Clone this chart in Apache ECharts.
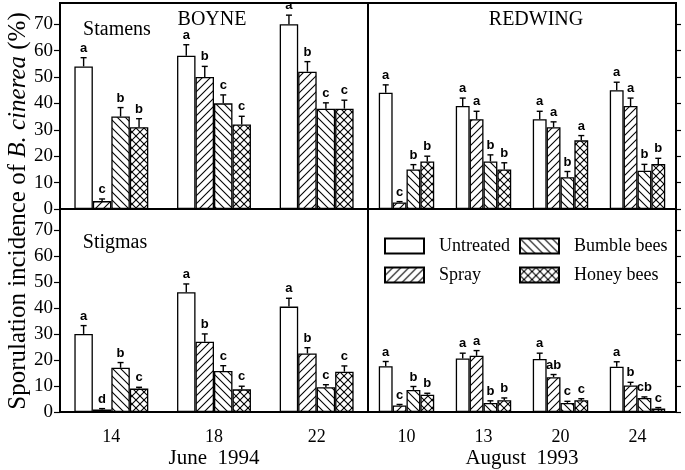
<!DOCTYPE html>
<html>
<head>
<meta charset="utf-8">
<script src="https://cdn.jsdelivr.net/npm/echarts@6/dist/echarts.min.js"></script>
<style>html,body{margin:0;padding:0;background:#fff}#c{width:685px;height:470px}</style>
</head>
<body>
<div id="c"></div>
<script>
// ---------- DATA ----------
const treatments = ['Untreated', 'Spray', 'Bumble bees', 'Honey bees'];
const boyneDates = ['14', '18', '22'];
const redwingDates = ['10', '13', '20', '24'];
const yTicks = [0, 10, 20, 30, 40, 50, 60, 70];

// rows = treatments (Untreated, Spray, Bumble bees, Honey bees), columns = dates
const boyneStamens = [[54, 58, 70], [3, 50, 52], [35, 40, 38], [31, 32, 38]];
const boyneStamensSE = [[3.3, 4.2, 3.4], [0.8, 4, 3.8], [3.4, 3.2, 2.2], [3.2, 3.1, 3.2]];
const boyneStamensLetters = [['a', 'a', 'a'], ['c', 'b', 'b'], ['b', 'c', 'c'], ['b', 'c', 'c']];

const redwingStamens = [[44, 39, 34, 45], [2.5, 34, 31, 39], [15, 18, 12, 14.5], [18, 15, 26, 17]];
const redwingStamensSE = [[3, 3, 3, 3], [0.3, 3, 2, 3], [1.8, 2.5, 2.2, 2.4], [2, 2.5, 1.8, 2.2]];
const redwingStamensLetters = [['a', 'a', 'a', 'a'], ['c', 'a', 'a', 'a'], ['b', 'b', 'b', 'b'], ['b', 'b', 'a', 'b']];

const boyneStigmas = [[30, 46, 40.5], [1, 27, 22.5], [17, 15.8, 9.5], [9, 8.7, 15.5]];
const boyneStigmasSE = [[3.2, 3.2, 3.2], [0.3, 3, 2.2], [2, 2, 1], [0.5, 1.2, 2.2]];
const boyneStigmasLetters = [['a', 'a', 'a'], ['d', 'b', 'b'], ['b', 'c', 'c'], ['c', 'c', 'c']];

const redwingStigmas = [[17.6, 20.6, 20.4, 17.4], [2.5, 21.6, 13.4, 10.2], [8.5, 3.5, 3.5, 5.4], [6.6, 4.5, 4.5, 1.3]];
const redwingStigmasSE = [[1.8, 2, 2.2, 1.9], [0.4, 2, 1, 1.2], [1.3, 0.8, 0.6, 0.4], [0.6, 0.9, 0.6, 0.4]];
const redwingStigmasLetters = [['a', 'a', 'a', 'a'], ['c', 'a', 'ab', 'b'], ['b', 'b', 'c', 'cb'], ['b', 'b', 'c', 'c']];

// ---------- STYLE ----------
const SERIF = 'Liberation Serif';
const SANS = 'Liberation Sans';
const GAP = 0.28;

function makePattern(kind, s) {
  const c = document.createElement('canvas');
  c.width = s; c.height = s;
  const g = c.getContext('2d');
  g.fillStyle = '#fff'; g.fillRect(0, 0, s, s);
  g.strokeStyle = '#000'; g.lineWidth = 1.1;
  const ks = [-s, 0, s, 2 * s];
  if (kind === 'fwd' || kind === 'cross') {
    ks.forEach(k => { g.beginPath(); g.moveTo(k + 1, -1); g.lineTo(k - s - 1, s + 1); g.stroke(); });
  }
  if (kind === 'back' || kind === 'cross') {
    ks.forEach(k => { g.beginPath(); g.moveTo(k - 1, -1); g.lineTo(k + s + 1, s + 1); g.stroke(); });
  }
  return { image: c, repeat: 'repeat' };
}
const fills = ['#fff', makePattern('fwd', 8), makePattern('back', 8), makePattern('cross', 8)];

const panels = [
  { cats: boyneDates, vals: boyneStamens, se: boyneStamensSE, letters: boyneStamensLetters, grid: { left: 60, top: 3, width: 308, height: 206 }, bottom: false, right: false },
  { cats: redwingDates, vals: redwingStamens, se: redwingStamensSE, letters: redwingStamensLetters, grid: { left: 368, top: 3, width: 308, height: 206 }, bottom: false, right: true },
  { cats: boyneDates, vals: boyneStigmas, se: boyneStigmasSE, letters: boyneStigmasLetters, grid: { left: 60, top: 209, width: 308, height: 203 }, bottom: true, right: false, name: 'June  1994' },
  { cats: redwingDates, vals: redwingStigmas, se: redwingStigmasSE, letters: redwingStigmasLetters, grid: { left: 368, top: 209, width: 308, height: 203 }, bottom: true, right: true, name: 'August  1993' }
];

const grid = [], xAxis = [], yAxis = [], series = [];
panels.forEach((p, pi) => {
  grid.push(Object.assign({ show: true, borderColor: '#000', borderWidth: 2, backgroundColor: 'transparent' }, p.grid));
  xAxis.push({
    type: 'category', gridIndex: pi, data: p.cats,
    axisLine: { show: true, lineStyle: { color: '#000', width: 2 } },
    axisTick: { show: false },
    axisLabel: { show: p.bottom, color: '#000', fontFamily: SERIF, fontSize: 18, margin: 16 },
    name: p.name || '', nameLocation: 'middle', nameGap: 36,
    nameTextStyle: { color: '#000', fontFamily: SERIF, fontSize: 21 }
  });
  yAxis.push({
    type: 'value', gridIndex: pi, min: 0, max: 78, interval: 10,
    position: p.right ? 'right' : 'left',
    splitLine: { show: false },
    axisLine: { show: true, lineStyle: { color: '#000', width: 2 } },
    axisTick: { show: true, inside: false, length: p.right ? 5 : 6, lineStyle: { color: '#000', width: 1.2 }, customValues: yTicks },
    axisLabel: { show: !p.right, color: '#000', fontFamily: SERIF, fontSize: 19, margin: 7, customValues: yTicks }
  });
  treatments.forEach((t, ti) => {
    series.push({
      type: 'bar', name: t, xAxisIndex: pi, yAxisIndex: pi,
      data: p.vals[ti], barGap: '0%', barCategoryGap: (GAP * 100) + '%',
      itemStyle: { color: fills[ti], borderColor: '#000', borderWidth: 1.3 },
      emphasis: { disabled: true }, animation: false
    });
  });
  const errData = [];
  const errLetters = [];
  treatments.forEach((t, ti) => {
    p.cats.forEach((c, ci) => {
      errData.push([ci, p.vals[ti][ci], p.vals[ti][ci] + p.se[ti][ci], ti]);
      errLetters.push(p.letters[ti][ci]);
    });
  });
  series.push({
    type: 'custom', xAxisIndex: pi, yAxisIndex: pi, data: errData, silent: true, animation: false, z: 5,
    renderItem: function (params, api) {
      const ci = api.value(0), v = api.value(1), top = api.value(2), ti = api.value(3);
      const band = api.size([1, 0])[0];
      const groupW = band * (1 - GAP);
      const bw = groupW / 4;
      const base = api.coord([ci, 0]);
      const x = base[0] - groupW / 2 + (ti + 0.5) * bw;
      const yv = api.coord([ci, v])[1];
      const ye = api.coord([ci, top])[1];
      const ls = { stroke: '#000', lineWidth: 1.4 };
      return {
        type: 'group', children: [
          { type: 'line', shape: { x1: x, y1: yv, x2: x, y2: ye }, style: ls },
          { type: 'line', shape: { x1: x - 3, y1: ye, x2: x + 3, y2: ye }, style: ls },
          { type: 'text', x: x, y: ye - 3, style: { text: errLetters[params.dataIndex], fill: '#000', font: 'bold 13px ' + SANS, textAlign: 'center', textVerticalAlign: 'bottom' } }
        ]
      };
    }
  });
});

const legendText = { color: '#000', fontFamily: SERIF, fontSize: 18, padding: [0, 0, 0, 10] };
const legendCommon = {
  orient: 'vertical', itemWidth: 39, itemHeight: 15, itemGap: 11, icon: 'rect',
  textStyle: legendText, selectedMode: false, padding: 0
};

const option = {
  backgroundColor: '#fff',
  animation: false,
  grid: grid, xAxis: xAxis, yAxis: yAxis, series: series,
  legend: [
    Object.assign({ left: 384, top: 237, data: ['Untreated', 'Spray'] }, legendCommon),
    Object.assign({ left: 519, top: 237, data: ['Bumble bees', 'Honey bees'] }, legendCommon)
  ],
  graphic: [
    { type: 'text', x: 18, y: 211, rotation: Math.PI / 2,
      style: { text: '{n|Sporulation incidence of }{i|B. cinerea}{n| (%)}', textAlign: 'center', textVerticalAlign: 'middle',
        rich: { n: { fontFamily: SERIF, fontSize: 25, fill: '#000', color: '#000' }, i: { fontFamily: SERIF, fontSize: 25, fontStyle: 'italic', fill: '#000', color: '#000' } } } },
    { type: 'text', x: 117, y: 30, style: { text: 'Stamens', font: '20px ' + SERIF, fill: '#000', textAlign: 'center', textVerticalAlign: 'middle' } },
    { type: 'text', x: 212, y: 20, style: { text: 'BOYNE', font: '20px ' + SERIF, fill: '#000', textAlign: 'center', textVerticalAlign: 'middle' } },
    { type: 'text', x: 536, y: 20, style: { text: 'REDWING', font: '20px ' + SERIF, fill: '#000', textAlign: 'center', textVerticalAlign: 'middle' } },
    { type: 'text', x: 115, y: 243, style: { text: 'Stigmas', font: '20px ' + SERIF, fill: '#000', textAlign: 'center', textVerticalAlign: 'middle' } }
  ]
};

const chart = echarts.init(document.getElementById('c'), null, { renderer: 'canvas' });
chart.setOption(option);
</script>
</body>
</html>
